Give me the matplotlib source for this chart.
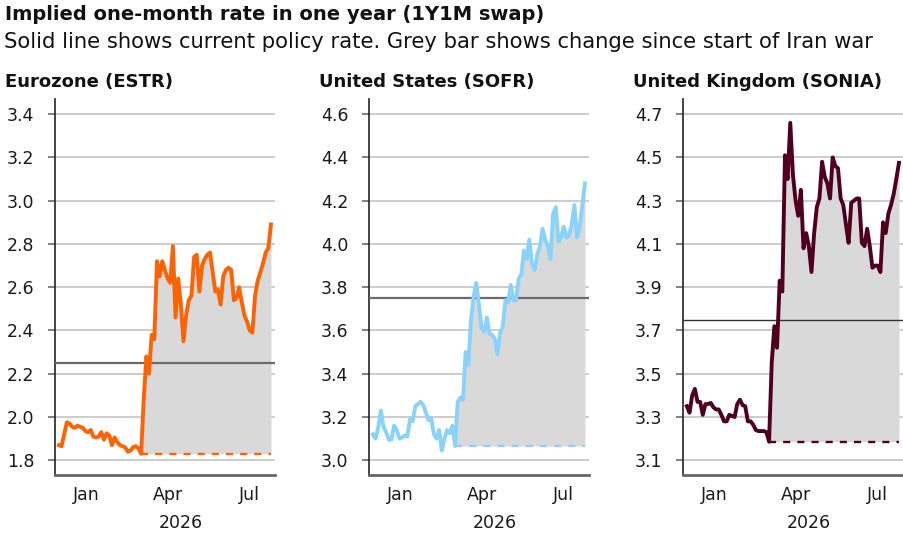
import matplotlib.pyplot as plt
import matplotlib.transforms as mtransforms
import numpy as np
import pandas as pd

plt.rcParams['font.family'] = ['DejaVu Sans']

title = 'Implied one-month rate in one year (1Y1M swap)'
subtitle = 'Solid line shows current policy rate. Grey bar shows change since start of Iran war'

panel_titles = ['Eurozone (ESTR)', 'United States (SOFR)', 'United Kingdom (SONIA)']
line_colors = ['#ff6200', '#89d3fb', '#50001e']
policy_rates = [2.25, 3.75, 3.75]
y_ticks = [[1.8, 2.0, 2.2, 2.4, 2.6, 2.8, 3.0, 3.2, 3.4],
           [3.0, 3.2, 3.4, 3.6, 3.8, 4.0, 4.2, 4.4, 4.6],
           [3.1, 3.3, 3.5, 3.7, 3.9, 4.1, 4.3, 4.5, 4.7]]
month_ticks = ['2026-01-01', '2026-04-01', '2026-07-01']
month_labels = ['Jan', 'Apr', 'Jul']
year_label = '2026'

first_day, last_day = '2025-12-01', '2026-07-25'
war_start = '2026-03-02'

estr = [1.87, 1.865, 1.92, 1.975, 1.97, 1.955, 1.95, 1.96, 1.955, 1.95,
        1.935, 1.93, 1.94, 1.91, 1.905, 1.91, 1.93, 1.895, 1.925, 1.915,
        1.87, 1.905, 1.885, 1.87, 1.865, 1.86, 1.84, 1.845, 1.86, 1.865,
        1.855, 1.83, 2.08, 2.28, 2.20, 2.38, 2.36, 2.72, 2.65, 2.72,
        2.68, 2.64, 2.62, 2.79, 2.46, 2.64, 2.52, 2.35, 2.47, 2.54,
        2.56, 2.74, 2.75, 2.58, 2.70, 2.73, 2.75, 2.76, 2.67, 2.58,
        2.59, 2.52, 2.65, 2.68, 2.69, 2.68, 2.54, 2.55, 2.60, 2.53,
        2.47, 2.44, 2.40, 2.39, 2.56, 2.63, 2.67, 2.71, 2.76, 2.78,
        2.89]

sofr = [3.12, 3.10, 3.15, 3.23, 3.155, 3.13, 3.095, 3.095, 3.16, 3.14,
        3.10, 3.105, 3.115, 3.11, 3.19, 3.18, 3.25, 3.26, 3.27, 3.255,
        3.22, 3.185, 3.195, 3.12, 3.10, 3.14, 3.045, 3.10, 3.14, 3.125,
        3.16, 3.066, 3.27, 3.29, 3.28, 3.50, 3.44, 3.65, 3.755, 3.82,
        3.72, 3.61, 3.595, 3.66, 3.585, 3.58, 3.56, 3.49, 3.59, 3.62,
        3.74, 3.73, 3.81, 3.74, 3.74, 3.84, 3.86, 3.97, 3.93, 4.02,
        3.91, 3.88, 3.95, 3.99, 4.07, 4.02, 3.99, 3.93, 4.14, 4.17,
        4.01, 4.03, 4.08, 4.03, 4.04, 4.09, 4.18, 4.03, 4.08, 4.18,
        4.28]

sonia = [3.35, 3.32, 3.40, 3.43, 3.37, 3.37, 3.31, 3.36, 3.36, 3.365,
         3.345, 3.335, 3.335, 3.31, 3.28, 3.28, 3.31, 3.305, 3.30, 3.36,
         3.38, 3.355, 3.35, 3.28, 3.28, 3.265, 3.24, 3.235, 3.235, 3.235,
         3.23, 3.186, 3.55, 3.72, 3.62, 3.93, 3.88, 4.51, 4.40, 4.66,
         4.42, 4.30, 4.23, 4.35, 4.08, 4.15, 4.09, 3.97, 4.15, 4.27,
         4.31, 4.48, 4.41, 4.38, 4.31, 4.50, 4.46, 4.45, 4.31, 4.28,
         4.19, 4.105, 4.29, 4.30, 4.31, 4.31, 4.105, 4.09, 4.17, 4.09,
         3.99, 4.00, 4.00, 3.97, 4.20, 4.15, 4.24, 4.28, 4.33, 4.40,
         4.475]

series = [estr, sofr, sonia]

W, H = 904, 538
fig = plt.figure(figsize=(W / 100, H / 100), dpi=100)

fig.text(5 / W, 1 - 15 / H, title, fontsize=14, fontweight='bold', va='center', color='#111111')
fig.text(4 / W, 1 - 42 / H, subtitle, fontsize=15.2, va='center', color='#111111')

ax_left = [55.3, 369.3, 683.3]
ax_top, ax_bottom, ax_w = 99, 475, 219.7
x_min, x_max = pd.Timestamp('2025-11-27'), pd.Timestamp('2026-07-29 12:00')

for i in range(3):
    ax = fig.add_axes([ax_left[i] / W, 1 - ax_bottom / H, ax_w / W, (ax_bottom - ax_top) / H])
    vals = np.array(series[i])
    dates = pd.date_range(first_day, last_day, periods=len(vals))
    ws = int(np.searchsorted(dates, pd.Timestamp(war_start)))
    base = vals[ws]
    c = line_colors[i]

    # grey area = move since the war started, dashed = level at the start
    ax.fill_between(dates[ws:], vals[ws:], base, color='#d9d9d9', lw=0, zorder=2)
    ax.plot(dates[ws:], np.full(len(vals) - ws, base), color=c, lw=1.7,
            ls=(0, (3, 3)), zorder=3)
    ax.axhline(policy_rates[i], color='#6b6b6b' if i < 2 else '#333333',
               lw=1.6 if i < 2 else 1.0, zorder=4)
    ax.plot(dates, vals, color=c, lw=2.8, zorder=5)

    t = y_ticks[i]
    ax.set_ylim(t[0] - 0.068, t[-1] + 0.07)
    ax.set_yticks(t)
    ax.set_yticklabels([f'{v:.1f}' for v in t])
    ax.set_xlim(x_min, x_max)
    ax.set_xticks(pd.to_datetime(month_ticks))
    ax.set_xticklabels(month_labels)

    ax.grid(axis='y', color='#c8c8c8', lw=1.3, zorder=1)
    ax.set_axisbelow(True)
    ax.tick_params(axis='y', length=5, width=1.3, color='#777777', pad=10,
                   labelsize=12.5, labelcolor='#1a1a1a')
    ax.tick_params(axis='x', length=0, pad=8, labelsize=12.5, labelcolor='#1a1a1a')
    for s in ['top', 'right']:
        ax.spines[s].set_visible(False)
    ax.spines['left'].set_color('#222222')
    ax.spines['left'].set_linewidth(1.2)
    ax.spines['bottom'].set_color('#666666')
    ax.spines['bottom'].set_linewidth(2)

    trans = mtransforms.blended_transform_factory(ax.transData, ax.transAxes)
    mid = pd.Timestamp(month_ticks[0]) + (x_max - pd.Timestamp(month_ticks[0])) / 2
    ax.text(mid, -(523 - ax_bottom) / (ax_bottom - ax_top), year_label, transform=trans,
            ha='center', va='center', fontsize=12.5, color='#1a1a1a')

    fig.text((ax_left[i] - 50) / W, 1 - 82 / H, panel_titles[i], fontsize=13,
             fontweight='bold', va='center', color='#111111')

fig.savefig('out.png', dpi=100)
